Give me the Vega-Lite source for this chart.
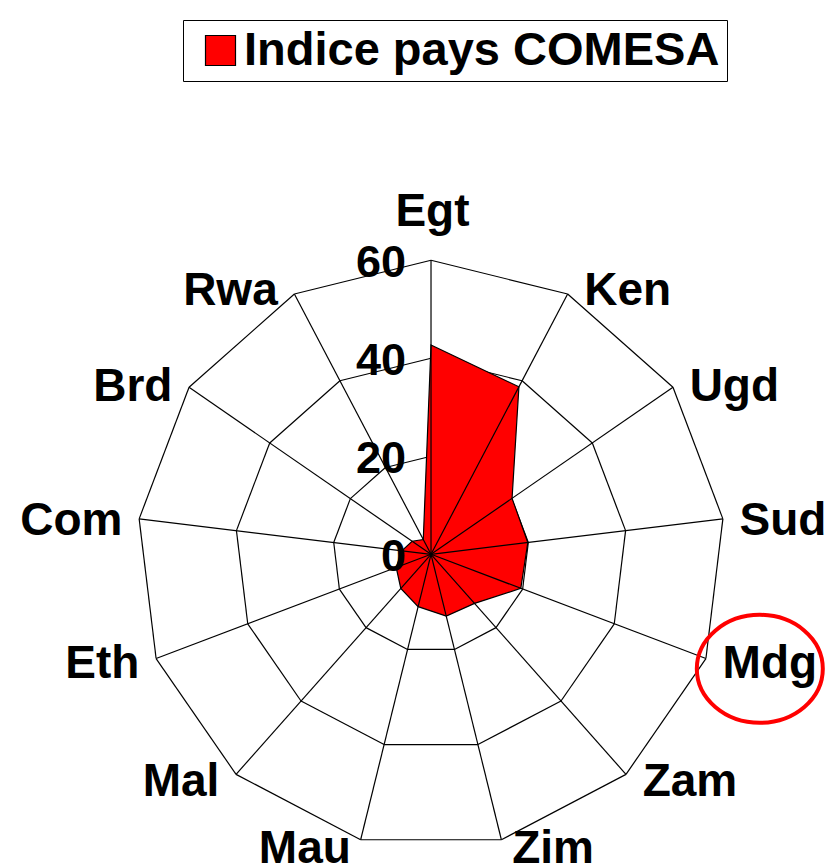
{
  "$schema": "https://vega.github.io/schema/vega-lite/v6.json",
  "width": 829,
  "height": 867,
  "autosize": "none",
  "padding": 0,
  "background": "white",
  "config": {
    "view": {"stroke": null},
    "font": "Liberation Sans",
    "legend": {
      "orient": "none",
      "legendX": 183,
      "legendY": 20,
      "labelFont": "Liberation Sans",
      "labelFontWeight": "bold",
      "labelFontSize": 47,
      "labelColor": "black",
      "labelLimit": 1000,
      "symbolType": "square",
      "symbolSize": 900,
      "symbolStrokeColor": "black",
      "symbolStrokeWidth": 1,
      "symbolOffset": 7,
      "labelOffset": 0,
      "strokeColor": "black",
      "padding": 7
    }
  },
  "datasets": {
    "pays": [
      {"cat": "Egt", "idx": 0, "value": 42.7, "series": "Indice pays COMESA"},
      {"cat": "Ken", "idx": 1, "value": 38.6, "series": "Indice pays COMESA"},
      {"cat": "Ugd", "idx": 2, "value": 20.1, "series": "Indice pays COMESA"},
      {"cat": "Sud", "idx": 3, "value": 19.9, "series": "Indice pays COMESA"},
      {"cat": "Mdg", "idx": 4, "value": 19.6, "series": "Indice pays COMESA"},
      {"cat": "Zam", "idx": 5, "value": 13.4, "series": "Indice pays COMESA"},
      {"cat": "Zim", "idx": 6, "value": 13.0, "series": "Indice pays COMESA"},
      {"cat": "Mau", "idx": 7, "value": 11.0, "series": "Indice pays COMESA"},
      {"cat": "Mal", "idx": 8, "value": 9.3, "series": "Indice pays COMESA"},
      {"cat": "Eth", "idx": 9, "value": 7.6, "series": "Indice pays COMESA"},
      {"cat": "Com", "idx": 10, "value": 6.0, "series": "Indice pays COMESA"},
      {"cat": "Brd", "idx": 11, "value": 4.7, "series": "Indice pays COMESA"},
      {"cat": "Rwa", "idx": 12, "value": 3.4, "series": "Indice pays COMESA"}
    ],
    "ticks": [{"tick": 0}, {"tick": 20}, {"tick": 40}, {"tick": 60}]
  },
  "encoding": {
    "x": {"field": "px", "type": "quantitative", "axis": null, "scale": {"domain": [-87.96, 81.22], "nice": false, "zero": false}},
    "y": {"field": "py", "type": "quantitative", "axis": null, "scale": {"domain": [-63.82, 113.12], "nice": false, "zero": false}}
  },
  "layer": [
    {
      "data": {"name": "pays"},
      "transform": [
        {"calculate": "[20,40,60]", "as": "level"},
        {"flatten": ["level"]},
        {"calculate": "datum.idx*2*PI/13", "as": "a"},
        {"calculate": "datum.level*sin(datum.a)", "as": "px"},
        {"calculate": "datum.level*cos(datum.a)", "as": "py"},
        {"calculate": "datum.level*sin(datum.a+2*PI/13)", "as": "px2"},
        {"calculate": "datum.level*cos(datum.a+2*PI/13)", "as": "py2"}
      ],
      "mark": {"type": "rule", "color": "black", "strokeWidth": 1.2},
      "encoding": {
        "x2": {"field": "px2"},
        "y2": {"field": "py2"}
      }
    },
    {
      "data": {"name": "pays"},
      "transform": [
        {"calculate": "datum.idx*2*PI/13", "as": "a"},
        {"calculate": "datum.value*sin(datum.a)", "as": "px"},
        {"calculate": "datum.value*cos(datum.a)", "as": "py"}
      ],
      "mark": {"type": "line", "interpolate": "linear-closed", "stroke": "black", "strokeWidth": 1.2},
      "encoding": {
        "order": {"field": "idx", "type": "quantitative"},
        "fill": {
          "field": "series",
          "type": "nominal",
          "scale": {"range": ["#ff0000"]},
          "legend": {
            "title": null,
            "encode": {"symbols": {"update": {"stroke": {"value": "black"}, "strokeWidth": {"value": 1.2}, "fill": {"value": "#ff0000"}}}}
          }
        }
      }
    },
    {
      "data": {"name": "pays"},
      "transform": [
        {"calculate": "datum.idx*2*PI/13", "as": "a"},
        {"calculate": "0", "as": "px"},
        {"calculate": "0", "as": "py"},
        {"calculate": "60*sin(datum.a)", "as": "px2"},
        {"calculate": "60*cos(datum.a)", "as": "py2"}
      ],
      "mark": {"type": "rule", "color": "black", "strokeWidth": 1.2},
      "encoding": {
        "x2": {"field": "px2"},
        "y2": {"field": "py2"}
      }
    },
    {
      "data": {"name": "ticks"},
      "transform": [
        {"calculate": "0", "as": "px"},
        {"calculate": "datum.tick", "as": "py"}
      ],
      "mark": {"type": "text", "align": "right", "baseline": "middle", "dx": -25, "dy": 3, "font": "Liberation Sans", "fontWeight": "bold", "fontSize": 45, "color": "black"},
      "encoding": {"text": {"field": "tick", "type": "quantitative"}}
    },
    {
      "data": {"name": "pays"},
      "transform": [
        {"filter": "datum.idx > 0 && datum.idx <= 6"},
        {"calculate": "datum.idx*2*PI/13", "as": "a"},
        {"calculate": "60*sin(datum.a) + (abs(cos(datum.a)) > 0.95 ? 2.2 : 3.4)", "as": "px"},
        {"calculate": "61.3*cos(datum.a) - 0.6", "as": "py"}
      ],
      "mark": {"type": "text", "align": "left", "baseline": "middle", "font": "Liberation Sans", "fontWeight": "bold", "fontSize": 46, "color": "black"},
      "encoding": {"text": {"field": "cat", "type": "nominal"}}
    },
    {
      "data": {"name": "pays"},
      "transform": [
        {"filter": "datum.idx >= 7"},
        {"calculate": "datum.idx*2*PI/13", "as": "a"},
        {"calculate": "60*sin(datum.a) - (abs(cos(datum.a)) > 0.95 ? 2.0 : 3.4)", "as": "px"},
        {"calculate": "61.3*cos(datum.a) - 0.6", "as": "py"}
      ],
      "mark": {"type": "text", "align": "right", "baseline": "middle", "font": "Liberation Sans", "fontWeight": "bold", "fontSize": 46, "color": "black"},
      "encoding": {"text": {"field": "cat", "type": "nominal"}}
    },
    {
      "data": {"name": "pays"},
      "transform": [
        {"filter": "datum.idx == 0"},
        {"calculate": "datum.idx*2*PI/13", "as": "a"},
        {"calculate": "60*sin(datum.a) + 0.3", "as": "px"},
        {"calculate": "60*cos(datum.a) + 6.9", "as": "py"}
      ],
      "mark": {"type": "text", "align": "center", "baseline": "alphabetic", "font": "Liberation Sans", "fontWeight": "bold", "fontSize": 46, "color": "black"},
      "encoding": {"text": {"field": "cat", "type": "nominal"}}
    },
    {
      "data": {"name": "pays"},
      "transform": [
        {"filter": "datum.cat == 'Mdg'"},
        {"calculate": "datum.idx*2*PI/13", "as": "a"},
        {"calculate": "60*sin(datum.a) + 11.0", "as": "px"},
        {"calculate": "60*cos(datum.a) - 2.1", "as": "py"}
      ],
      "mark": {"type": "point", "filled": false, "stroke": "#ff0000", "strokeWidth": 4, "opacity": 1, "size": 11664, "shape": "M -1.1667 0 A 1.1667 1 0 1 0 1.1667 0 A 1.1667 1 0 1 0 -1.1667 0 Z"}
    }
  ]
}
